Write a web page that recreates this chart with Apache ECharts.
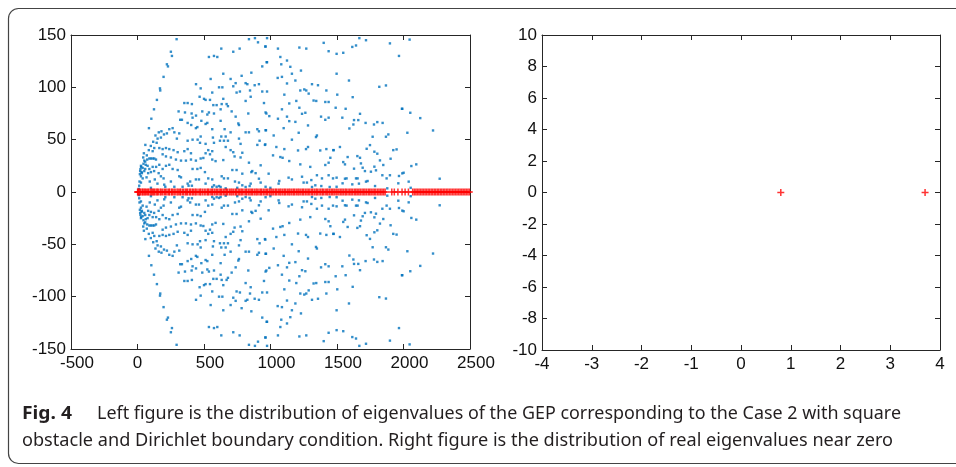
<!DOCTYPE html>
<html><head><meta charset="utf-8">
<script src="https://cdn.jsdelivr.net/npm/echarts@6/dist/echarts.min.js"></script>
<style>html,body{margin:0;padding:0;background:#fff}#c{width:956px;height:467px}</style>
</head><body><div id="c"></div>
<script>
// Complex eigenvalues (upper half-plane; conjugates are mirrored)
const complexUpper = [
[294,146],[251,134],[259,130],[221,122],[229,120],[196,110],[169,99],[171,97],[440,103],[146,88],[352,85],[377,85],[409,84],[124,79],[309,77],[357,76],[407,75],[440,73],[104,70],[414,71],[334,69],[321,69],[86,61],[377,66],[404,64],[439,61],[264,61],[239,60],[221,56],[199,55],[59,45],[151,51],[176,52],[277,57],[314,56],[296,51],[377,49],[414,50],[452,50],[48,37],[43,33],[51,30],[58,29],[73,31],[114,39],[144,47],[126,42],[164,42],[189,41],[214,42],[239,41],[271,40],[302,38],[352,39],[377,41],[402,37],[89,32],[101,32],[114,32],[126,32],[139,31],[189,36],[214,34],[251,33],[289,31],[327,30],[364,30],[402,31],[439,30],[26,25],[39,23],[33,18],[51,20],[58,22],[76,25],[89,22],[114,24],[101,19],[164,26],[189,22],[214,25],[239,26],[264,22],[302,21],[414,22],[18,17],[26,15],[39,13],[26,9],[13,6],[159,18],[176,15],[196,13],[251,10],[314,15],[327,14],[396,10],[377,8],[439,12],[101,4],[201,7],[209,5],[277,5],[339,5],[384,6],[409,6],
[10,3],[15,10],[20,20],[22,22],[28,24],[31,19],[45,27],[62,26],[70,35],[85,40],[100,44],[118,48],[135,54],[160,57],[180,58],[68,14],[80,18],[92,10],[130,12],[150,8],[125,20],[140,24],
[838,146],[883,147],[906,143],[963,139],[630,137],[768,137],[720,134],[537,129],[575,130],[600,129],[971,124],[938,120],[645,113],[856,114],[783,111],[550,108],[700,108],[813,104],[826,103],[738,104],[881,102],[913,103],[720,101],[613,100],[638,100],[475,99],[846,97],[770,96],[745,95],[562,95],[938,96],[467,91],[500,89],[512,88],[545,88],[645,89],[851,91],[813,87],[951,85],[570,83],[595,83],[633,84],[670,84],[680,82],[625,79],[487,77],[537,76],[525,74],[575,75],[708,77],[833,75],[963,76],[738,72],[625,68],[480,68],[525,66],[512,65],[758,65.5],[763,64],[450,62],[562,60],[655,60],[901,60],[913,58],[700,57],[813,57],[838,57],[963,59],[475,53],[630,53],[663,53],[567,52],[620,49],[650,49],[680,49],[763,51],[918,49],[470,47],[512,46],[575,47],[775,46],[901,45],[663,43],[958,45],[532,40],[700,40],[720,38],[562,39],[512,37],[545,36],[788,37.5],[730,34],[775,33],[475,32],[495,32.5],[562,31],[587,29.5],[645,30.5],[838,28],[926,25.5],[450,22],[475,23],[713,21],[745,21],[856,19],[863,20],[888,18],[507,19],[788,17.5],[633,15],[650,13],[680,13],[532,13],[562,12],[913,12.7],[462,12],[926,9],[733,10],[763,9],[788,6.4],[575,6.4],[595,5],[613,5.7],[625,4.8],[562,4.8],[512,8],[813,4.8],[843,5.7],[750,4],[851,8],[963,5],[663,3.5],
[974,147],[1400,142.5],[1437,134.5],[961,139],[1056,137],[1217,138],[1269,137],[1074,129],[974,124],[1081,122],[1124,125.6],[1149,119.6],[1229,116],[1161,113],[1086,110],[1054,109],[1187,106.5],[1312,103],[1357,102],[1124,103.7],[974,96],[1224,97],[1254,98],[1269,97],[1287,94],[1420,97],[1104,93],[1194,87],[1324,87.4],[1344,87],[1412,86],[1437,86],[1141,84.6],[1217,80.5],[1086,79],[1237,74.7],[1262,75.7],[969,75],[991,72.5],[1056,70],[1124,72],[1380,72],[1412,69],[1437,71],[1141,67.7],[1187,67],[1282,63.6],[1099,61],[966,59],[1212,56.6],[1024,54],[1349,54],[1342,52.5],[1161,50],[961,45.5],[1044,43],[1104,41],[1207,39.7],[1267,41],[1282,43],[1374,39.7],[1420,41],[1475,40],[1019,35],[1074,33.4],[1091,32.7],[1450,32.7],[1141,29.6],[1224,26.4],[1299,24],[1437,28],[1412,25.8],[986,17.5],[1349,16],[1437,16],[1066,10.5],[1061,8],[1136,13.7],[1161,12],[1237,14.6],[1307,11.4],[1387,13],[1470,13],[1249,9],[1274,9],[1337,6.4],[1382,5.7],[1445,4.8],[999,4],[1312,4.8],
[1668,147],[1718,145],[1643,140],[1615,138.6],[1898,142],[1497,132],[1547,133],[1966,130],[1497,113],[1590,106.5],[1818,100.5],[1868,101.8],[1502,93],[1618,90.6],[1490,80.5],[1565,79.5],[1991,79.5],[1673,74.7],[1540,71],[1628,68.7],[1660,68.7],[1715,66],[1778,64.5],[1803,66.8],[1843,66],[1623,64.5],[1593,60.7],[1886,55],[1868,52.8],[1768,52.8],[1472,40],[1522,43],[1748,44.8],[1723,41.3],[1781,38.5],[1803,36.6],[1923,40],[1948,40.7],[1580,33.4],[1653,34.3],[1673,32.7],[1547,28.6],[1560,26.4],[1680,27.3],[1823,30.2],[1903,31.8],[1848,25.8],[1628,22.3],[1693,23.2],[1781,24.2],[1710,20],[1755,19.4],[1793,20.7],[1841,16],[1898,16],[1966,15.3],[1991,17.8],[1497,13.7],[1572,13],[1560,12.7],[1643,13],[1655,13],[1718,9.9],[1730,10.5],[1873,13],[1542,8.3],[1615,7.3],[1665,8],[1786,5.7],[1497,5],[1878,3.5],[1961,8.3],
[2046,145.6],[1988,79.5],[2051,75.7],[2126,70.6],[2029,56.6],[2222,58.8],[2096,26.4],[2059,24.8],[2001,18.4],[2272,12.7],[2039,9.9],[2054,4]
];
// Real eigenvalues (left panel)
const realEig = [0.8,3.7,9,17,24,35,41,50,58,66,77,83,95,104,112,121,128,140,149,156,170,178,190,203,211,222,235,241,255,262,274,283,297,306,318,325,338,347,360,369,377,391,399,412,421,433,441,455,468,476,489,502,514,527,533,546,558,566,579,591,600,613,624,632,645,657,668,676,690,702,711,723,736,744,757,768,779,788,801,814,822,835,846,857,866,879,891,900,913,925,933,946,958,969,978,991,1003,1012,1024,1037,1045,1058,1070,1079,1092,1104,1113,1126,1138,1147,1160,1172,1181,1194,1206,1215,1228,1240,1249,1262,1274,1285,1296,1309,1318,1331,1343,1352,1365,1377,1389,1398,1411,1423,1432,1445,1457,1468,1479,1492,1501,1514,1526,1537,1548,1561,1570,1583,1595,1606,1617,1630,1641,1652,1664,1675,1688,1699,1710,1722,1735,1746,1757,1770,1781,1792,1805,1816,1828,1839,1851,1862,1912,1931,1958,1989,2012,2037,2069,2081,2093,2104,2116,2127,2139,2150,2162,2173,2185,2196,2208,2219,2231,2242,2254,2265,2277,2288,2300,2311,2323,2334,2346,2357,2369,2380,2392,2403,2415,2426,2438,2449,2461,2472,2484,2495];
// Real eigenvalues near zero (right panel)
const nearZero = [0.8, 3.7];
const leftXTicks = [-500, 0, 500, 1000, 1500, 2000, 2500];
const leftYTicks = [-150, -100, -50, 0, 50, 100, 150];
const rightXTicks = [-4,-3,-2,-1,0,1,2,3,4];
const rightYTicks = [-10,-8,-6,-4,-2,0,2,4,6,8,10];
const captionBold = 'Fig. 4';
const captionLine1 = 'Left figure is the distribution of eigenvalues of the GEP corresponding to the Case 2 with square';
const captionLine2 = 'obstacle and Dirichlet boundary condition. Right figure is the distribution of real eigenvalues near zero';

const blueData = complexUpper.concat(complexUpper.map(p => [p[0], -p[1]]));
const plus = 'path://M4.7,0h2.6v4.7h4.7v2.6h-4.7v4.7h-2.6v-4.7h-4.7v-2.6h4.7z';
const axisCol = '#262626';
const labelFont = {fontSize: 17, color: '#111', fontFamily: 'Liberation Sans, Arial, sans-serif'};

function mkX(grid, pos, ticks, show, shift) {
  const lab = Object.assign({show:show, margin:6, formatter: v => shift && v !== 0 ? '{s|' + v + '}' : String(v)}, labelFont);
  if (shift) lab.rich = {s: Object.assign({padding:[0,0,0,12]}, labelFont)};
  return {type:'value', gridIndex:grid, position:pos, min:ticks[0], max:ticks[ticks.length-1], interval:ticks[1]-ticks[0],
    axisLine:{show:true, onZero:false, lineStyle:{color:axisCol, width:1}},
    axisTick:{show:true, inside:true, length:5, lineStyle:{color:axisCol}},
    splitLine:{show:false},
    axisLabel: lab};
}
function mkY(grid, pos, ticks, show) {
  return {type:'value', gridIndex:grid, position:pos, min:ticks[0], max:ticks[ticks.length-1], interval:ticks[1]-ticks[0],
    axisLine:{show:true, onZero:false, lineStyle:{color:axisCol, width:1}},
    axisTick:{show:true, inside:true, length:5, lineStyle:{color:axisCol}},
    splitLine:{show:false},
    axisLabel: Object.assign({show:show, margin:5, formatter: v => String(v)}, labelFont)};
}

// measure caption to emulate the condensed typeface
const cv = document.createElement('canvas').getContext('2d');
const capFont = '"Noto Sans", sans-serif';
const capSize = 18;
cv.font = capSize + 'px ' + capFont;
const s2 = 871 / cv.measureText(captionLine2).width;
const s1 = 804 / cv.measureText(captionLine1).width;
cv.font = 'bold ' + capSize + 'px ' + capFont;
const sb = 50 / cv.measureText(captionBold).width;

const chart = echarts.init(document.getElementById('c'), null, {renderer:'canvas'});
chart.setOption({
  animation:false,
  backgroundColor:'#fff',
  grid:[
    {left:71, top:35, width:399, height:314},
    {left:542, top:35, width:398, height:315}
  ],
  xAxis:[mkX(0,'bottom',leftXTicks,true,true), mkX(0,'top',leftXTicks,false,false), mkX(1,'bottom',rightXTicks,true,false), mkX(1,'top',rightXTicks,false,false)],
  yAxis:[mkY(0,'left',leftYTicks,true), mkY(0,'right',leftYTicks,false), mkY(1,'left',rightYTicks,true), mkY(1,'right',rightYTicks,false)],
  series:[
    {type:'scatter', xAxisIndex:0, yAxisIndex:0, data:blueData, symbol:'rect', symbolSize:2.4, itemStyle:{color:'#0072bd'}, z:2},
    {type:'scatter', xAxisIndex:0, yAxisIndex:0, data:realEig.map(x=>[x,0]), symbol:plus, symbolSize:7, itemStyle:{color:'#ff0000'}, z:3},
    {type:'scatter', xAxisIndex:2, yAxisIndex:2, data:nearZero.map(x=>[x,0]), symbol:plus, symbolSize:7, itemStyle:{color:'#ff0000'}, z:3}
  ],
  graphic:[
    {type:'rect', shape:{x:8.5, y:8.5, width:1000, height:455, r:10}, style:{fill:null, stroke:'#444', lineWidth:1.2}, z:0, silent:true},
    {type:'text', x:22, y:414, scaleX:sb, style:{text:captionBold, font:'bold '+capSize+'px '+capFont, fill:'#231f20', textVerticalAlign:'middle'}},
    {type:'text', x:97, y:414, scaleX:s1, style:{text:captionLine1, font:capSize+'px '+capFont, fill:'#231f20', textVerticalAlign:'middle'}},
    {type:'text', x:22, y:441, scaleX:s2, style:{text:captionLine2, font:capSize+'px '+capFont, fill:'#231f20', textVerticalAlign:'middle'}}
  ]
});
</script></body></html>
